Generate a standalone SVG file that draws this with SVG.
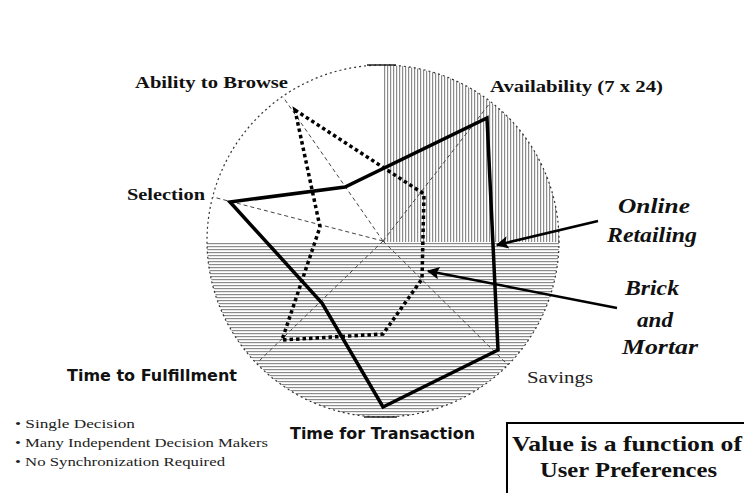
<svg xmlns="http://www.w3.org/2000/svg" width="744" height="493" viewBox="0 0 744 493">
<style>
.lbl{font-family:"Liberation Serif","Times New Roman",serif;font-weight:bold;font-size:16px;fill:#111}
.it{font-family:"Liberation Serif","Times New Roman",serif;font-weight:bold;font-style:italic;font-size:22px;fill:#111}
.sans{font-family:"DejaVu Sans","Liberation Sans",sans-serif;font-weight:bold;font-size:15px;fill:#111}
.reg{font-family:"Liberation Serif","Times New Roman",serif;font-size:17px;fill:#222}
.bul{font-family:"Liberation Serif","Times New Roman",serif;font-size:13px;fill:#222}
.box{font-family:"Liberation Serif","Times New Roman",serif;font-weight:bold;font-size:22px;fill:#111}
.axis{stroke:#444;stroke-width:1;stroke-dasharray:4 3;fill:none}
.online{stroke:#000;stroke-width:3.5;fill:none;stroke-linejoin:miter}
.brick{stroke:#000;stroke-width:3.5;stroke-dasharray:3.5 3;fill:none}
.arrow{stroke:#000;stroke-width:2.5;fill:none}
</style>
<defs>
<pattern id="vh" width="3" height="10" patternUnits="userSpaceOnUse"><rect width="1.2" height="10" fill="#8c8c8c"/></pattern>
<pattern id="hh" width="10" height="3" patternUnits="userSpaceOnUse"><rect width="10" height="1.2" fill="#8c8c8c"/></pattern>
<clipPath id="cc"><circle cx="383" cy="241" r="176"/></clipPath>
<marker id="ah" viewBox="0 0 10 10" refX="9" refY="5" markerWidth="6" markerHeight="5" orient="auto" markerUnits="strokeWidth"><path d="M0,0 L10,5 L0,10 L2,5 z" fill="#000"/></marker>
</defs>
<rect width="744" height="493" fill="#fff"/>
<g id="background" clip-path="url(#cc)">
<rect x="383" y="65" width="176" height="177" fill="url(#vh)"/>
<rect x="207" y="242" width="352" height="176" fill="url(#hh)"/>
</g>
<g id="circle">
<circle cx="383" cy="241" r="176" fill="none" stroke="#333" stroke-width="1.2" stroke-dasharray="2 3"/>
<line x1="367" y1="65" x2="396" y2="65" stroke="#222" stroke-width="1.5"/>
<line x1="364" y1="417" x2="397" y2="417" stroke="#222" stroke-width="1.5"/>
</g>
<g id="connectors">
<g id="axes">
<line class="axis" x1="383" y1="241" x2="283" y2="97"/>
<line class="axis" x1="383" y1="241" x2="490" y2="103"/>
<line class="axis" x1="383" y1="241" x2="508" y2="365"/>
<line class="axis" x1="383" y1="241" x2="257" y2="363"/>
<line class="axis" x1="383" y1="241" x2="213" y2="197"/>
</g>
<polygon id="online-retailing" class="online" points="230,202 345,187 487,118 498,350 383,407 322,303"/>
<polygon id="brick-and-mortar" class="brick" points="295,110 424,194 422,279 383,334 282,340 320,227"/>
<line id="arrow-online" class="arrow" x1="598" y1="221" x2="497" y2="245" marker-end="url(#ah)"/>
<line id="arrow-brick" class="arrow" x1="617" y1="308" x2="428" y2="271" marker-end="url(#ah)"/>
</g>
<g id="label-browse"><text class="lbl" x="135" y="88" textLength="153" lengthAdjust="spacingAndGlyphs">Ability to Browse</text></g>
<g id="label-availability"><text class="lbl" x="490" y="92" textLength="173" lengthAdjust="spacingAndGlyphs">Availability (7 x 24)</text></g>
<g id="label-selection"><text class="lbl" x="127" y="200" textLength="78" lengthAdjust="spacingAndGlyphs">Selection</text></g>
<g id="label-online">
<text class="it" x="618" y="213" textLength="72" lengthAdjust="spacingAndGlyphs">Online</text>
<text class="it" x="607" y="242" textLength="90" lengthAdjust="spacingAndGlyphs">Retailing</text>
</g>
<g id="label-brick">
<text class="it" x="625" y="295" textLength="54" lengthAdjust="spacingAndGlyphs">Brick</text>
<text class="it" x="637" y="327" textLength="36" lengthAdjust="spacingAndGlyphs">and</text>
<text class="it" x="622" y="354" textLength="76" lengthAdjust="spacingAndGlyphs">Mortar</text>
</g>
<g id="label-savings"><text class="reg" x="527" y="383" textLength="66" lengthAdjust="spacingAndGlyphs">Savings</text></g>
<g id="label-fulfillment"><text class="sans" x="67" y="381" textLength="170" lengthAdjust="spacingAndGlyphs">Time to Fulfillment</text></g>
<g id="label-transaction"><text class="sans" x="290" y="439" textLength="185" lengthAdjust="spacingAndGlyphs">Time for Transaction</text></g>
<g id="bullets">
<text class="bul" x="15" y="428" textLength="120" lengthAdjust="spacingAndGlyphs">• Single Decision</text>
<text class="bul" x="15" y="447" textLength="253" lengthAdjust="spacingAndGlyphs">• Many Independent Decision Makers</text>
<text class="bul" x="15" y="466" textLength="210" lengthAdjust="spacingAndGlyphs">• No Synchronization Required</text>
</g>
<g id="value-box">
<rect x="507" y="423" width="260" height="90" fill="#fff" stroke="#000" stroke-width="2"/>
<text class="box" x="512" y="451" textLength="230" lengthAdjust="spacingAndGlyphs">Value is a function of</text>
<text class="box" x="540" y="477" textLength="177" lengthAdjust="spacingAndGlyphs">User Preferences</text>
</g>
</svg>
